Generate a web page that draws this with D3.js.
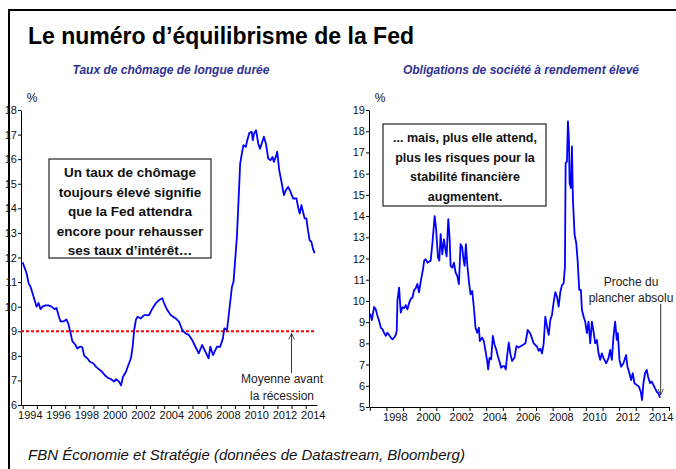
<!DOCTYPE html>
<html><head><meta charset="utf-8">
<script src="https://cdn.jsdelivr.net/npm/d3@7"></script>
<style>body{margin:0;background:#fff}svg{display:block}</style>
</head><body><svg id="c" width="676" height="469"></svg>
<script>
// ---- DATA ----
const unempYears=[1994.00,1994.28,1994.42,1994.56,1994.77,1994.98,1995.12,1995.26,1995.40,1995.61,1995.82,1996.04,1996.25,1996.39,1996.53,1996.67,1996.88,1997.09,1997.23,1997.37,1997.51,1997.72,1997.86,1998.07,1998.21,1998.35,1998.56,1998.77,1998.98,1999.19,1999.40,1999.61,1999.82,2000.04,2000.25,2000.46,2000.60,2000.81,2000.95,2001.09,2001.30,2001.51,2001.65,2001.77,2001.88,2002.00,2002.12,2002.35,2002.58,2002.93,2003.17,2003.40,2003.64,2003.87,2004.04,2004.22,2004.46,2004.81,2005.04,2005.28,2005.51,2005.74,2005.98,2006.21,2006.44,2006.68,2006.91,2007.14,2007.26,2007.45,2007.73,2007.96,2008.15,2008.25,2008.44,2008.55,2008.79,2008.90,2009.14,2009.37,2009.49,2009.60,2009.77,2009.84,2010.02,2010.19,2010.26,2010.35,2010.49,2010.65,2010.77,2010.89,2011.05,2011.19,2011.35,2011.52,2011.66,2011.75,2011.89,2011.99,2012.13,2012.29,2012.46,2012.60,2012.76,2012.93,2013.11,2013.35,2013.46,2013.58,2013.70,2013.81,2013.93,2014.05,2014.16,2014.28,2014.40,2014.51,2014.63];
const unempValues=[11.8,11.35,10.95,10.8,10.4,10.0,10.15,9.9,10.0,10.05,10.05,10.0,9.9,9.95,9.65,9.4,9.4,9.48,9.3,8.95,8.6,8.45,8.3,8.38,8.35,8.0,7.9,7.75,7.7,7.55,7.45,7.35,7.2,7.1,7.05,6.95,7.05,6.95,6.8,7.15,7.35,7.69,7.9,8.37,9.05,9.46,9.59,9.52,9.66,9.66,9.93,10.13,10.27,10.34,10.07,9.86,9.66,9.52,9.39,9.05,8.91,8.85,8.64,8.37,8.1,8.44,8.17,7.9,8.37,8.03,8.37,8.37,8.71,9.12,9.05,9.6,10.81,11.01,12.84,15.82,16.23,16.57,16.5,16.7,17.07,17.11,16.77,17.04,17.18,16.63,16.43,16.63,16.91,16.63,16.03,15.96,16.09,15.89,16.09,16.3,15.55,15.08,14.54,14.74,14.87,14.67,14.4,14.4,14.06,13.79,14.13,13.86,13.59,13.59,13.11,12.7,12.64,12.37,12.17];
const hyYears=[1997.03,1997.12,1997.26,1997.36,1997.46,1997.56,1997.66,1997.76,1997.86,1997.96,1998.06,1998.16,1998.26,1998.36,1998.46,1998.56,1998.62,1998.66,1998.76,1998.86,1998.96,1999.06,1999.16,1999.26,1999.36,1999.46,1999.56,1999.66,1999.76,1999.86,1999.96,2000.06,2000.20,2000.27,2000.36,2000.46,2000.56,2000.66,2000.76,2000.90,2000.98,2001.10,2001.18,2001.26,2001.36,2001.46,2001.56,2001.62,2001.72,2001.80,2001.86,2001.96,2002.06,2002.16,2002.26,2002.36,2002.46,2002.56,2002.62,2002.70,2002.78,2002.86,2002.96,2003.06,2003.16,2003.26,2003.36,2003.46,2003.56,2003.62,2003.76,2003.86,2003.96,2004.06,2004.12,2004.20,2004.30,2004.40,2004.50,2004.60,2004.70,2004.82,2004.90,2005.02,2005.10,2005.18,2005.26,2005.36,2005.46,2005.56,2005.70,2005.82,2005.96,2006.10,2006.26,2006.36,2006.50,2006.66,2006.86,2007.06,2007.16,2007.26,2007.36,2007.46,2007.56,2007.66,2007.76,2007.86,2007.96,2008.06,2008.16,2008.26,2008.36,2008.46,2008.56,2008.66,2008.74,2008.78,2008.86,2008.92,2008.98,2009.02,2009.10,2009.16,2009.22,2009.32,2009.42,2009.50,2009.60,2009.70,2009.76,2009.86,2009.96,2010.06,2010.16,2010.26,2010.36,2010.46,2010.56,2010.66,2010.76,2010.86,2010.96,2011.06,2011.22,2011.36,2011.46,2011.56,2011.66,2011.76,2011.86,2011.92,2012.02,2012.12,2012.26,2012.42,2012.50,2012.62,2012.72,2012.82,2012.92,2013.06,2013.18,2013.30,2013.38,2013.46,2013.56,2013.66,2013.74,2013.86,2013.96,2014.06,2014.16,2014.26,2014.36,2014.46];
const hyValues=[9.4,9.1,9.72,9.6,9.29,9.06,8.74,8.66,8.5,8.35,8.5,8.39,8.27,8.19,8.27,8.39,8.6,10.0,10.63,9.45,9.7,9.65,9.8,9.6,9.9,10.1,10.15,10.5,10.6,10.8,10.4,10.9,11.5,11.9,11.97,11.8,11.85,11.9,12.68,14.0,13.46,12.05,11.9,13.15,12.2,12.9,12.36,12.1,13.86,12.99,11.65,11.57,11.8,11.34,11.18,10.79,12.68,12.52,12.05,11.65,12.68,11.73,10.94,10.31,10.47,9.69,8.74,8.5,8.74,8.11,8.27,8.11,7.64,7.17,6.77,7.32,7.24,8.35,7.95,7.72,7.4,7.09,6.85,6.93,6.93,6.77,7.4,8.03,7.48,7.17,7.32,7.87,7.8,7.87,7.95,8.0,8.63,8.45,8.0,7.84,7.65,7.75,7.53,8.0,9.26,8.79,8.4,9.1,9.34,9.94,10.41,10.2,9.73,10.41,10.75,10.83,11.62,16.5,16.57,18.46,17.6,15.55,15.32,17.28,14.76,13.11,12.72,11.93,10.52,10.52,9.58,9.26,9.02,8.48,9.02,8.0,9.02,8.55,8.0,8.16,7.53,7.22,7.53,7.3,7.06,7.3,7.69,7.22,8.32,9.02,8.16,8.48,7.22,6.9,7.06,7.45,6.9,6.59,6.27,6.59,6.12,6.04,5.97,5.72,5.33,6.12,6.59,6.75,6.43,6.12,6.2,6.04,5.88,5.72,5.65,5.44];
const leftYTicks=[6,7,8,9,10,11,12,13,14,15,16,17,18];
const rightYTicks=[5,6,7,8,9,10,11,12,13,14,15,16,17,18,19];
const leftXLabels=[1994,1996,1998,2000,2002,2004,2006,2008,2010,2012,2014];
const rightXLabels=[1998,2000,2002,2004,2006,2008,2010,2012,2014];
const preRecessionMean=9;
const titleText="Le numéro d’équilibrisme de la Fed";
const leftTitle="Taux de chômage de longue durée";
const rightTitle="Obligations de société à rendement élevé";
const leftNote=["Un taux de chômage","toujours élevé signifie","que la Fed attendra","encore pour rehausser","ses taux d’intérêt…"];
const rightNote=["... mais, plus elle attend,","plus les risques pour la","stabilité financière","augmentent."];
const meanNote=["Moyenne avant","la récession"];
const floorNote=["Proche du","plancher absolu"];
const sourceText="FBN Économie et Stratégie (données de Datastream, Bloomberg)";

// ---- DRAW ----
const svg=d3.select("#c");
const SANS="'Liberation Sans',Arial,sans-serif";
const NARROW="'Liberation Sans Narrow','Arial Narrow',sans-serif";
svg.append("rect").attr("width",676).attr("height",469).attr("fill","#fff");
// frame
svg.append("path").attr("d","M9,469V10H676").attr("fill","none").attr("stroke","#000").attr("stroke-width",2);

svg.append("text").attr("x",28).attr("y",44).text(titleText)
  .attr("font-family",SANS).attr("font-weight","bold").attr("font-size",23).attr("fill","#000");

function panel(o){
  const g=svg.append("g");
  const x=d3.scaleLinear().domain(o.xDomain).range([o.x0,o.x1]);
  const y=d3.scaleLinear().domain(o.yDomain).range([o.y1,o.y0]);
  const ya=g.append("g").attr("transform",`translate(${o.x0},0)`)
    .call(d3.axisLeft(y).tickValues(o.yTicks).tickSize(3).tickSizeOuter(0).tickPadding(1).tickFormat(d3.format("d")));
  ya.select(".domain").attr("stroke","#000");
  ya.selectAll("text").attr("font-family",NARROW).attr("font-size",11).attr("fill","#111");
  const xa=g.append("g").attr("transform",`translate(0,${o.y1})`)
    .call(d3.axisBottom(x).tickValues(d3.range(Math.ceil(o.xDomain[0]),Math.floor(o.xDomain[1])+1)).tickSize(4).tickSizeOuter(0).tickFormat(""));
  xa.select(".domain").attr("stroke","#000");
  const xl=g.append("g").attr("transform",`translate(0,${o.y1})`)
    .call(d3.axisBottom(x).tickValues(o.xLabels.map(d=>d+0.5)).tickSize(0).tickPadding(6).tickFormat(d=>String(Math.floor(d))));
  xl.select(".domain").remove();
  xl.selectAll("text").attr("font-family",NARROW).attr("font-size",11).attr("fill","#111");
  g.append("text").attr("x",o.x0+11).attr("y",o.y0-8).attr("text-anchor","middle").text("%")
    .attr("font-family",SANS).attr("font-size",12).attr("fill","#111");
  g.append("text").attr("x",o.titleX).attr("y",74).attr("text-anchor","middle").text(o.title)
    .attr("font-family",SANS).attr("font-weight","bold").attr("font-style","italic").attr("font-size",12).attr("fill","#2e3192");
  return {g,x,y};
}

const L=panel({x0:21,x1:317,y0:110,y1:405,xDomain:[1993.88,2014.8],yDomain:[6,18],yTicks:leftYTicks,xLabels:leftXLabels,title:leftTitle,titleX:171});
const R=panel({x0:369,x1:669,y0:110,y1:407,xDomain:[1996.95,2015.0],yDomain:[5,19],yTicks:rightYTicks,xLabels:rightXLabels,title:rightTitle,titleX:521});

L.g.append("line").attr("x1",L.x(1993.88)).attr("x2",L.x(2014.7))
  .attr("y1",L.y(preRecessionMean)).attr("y2",L.y(preRecessionMean))
  .attr("stroke","#ff0000").attr("stroke-width",2).attr("stroke-dasharray","3,2");

const line=(s,xs,ys)=>d3.line().x((d,i)=>s.x(xs[i])).y((d,i)=>s.y(ys[i]));
L.g.append("path").datum(unempValues).attr("d",line(L,unempYears,unempValues))
  .attr("fill","none").attr("stroke","#0000ff").attr("stroke-width",1.8).attr("stroke-linejoin","round");
R.g.append("path").datum(hyValues).attr("d",line(R,hyYears,hyValues))
  .attr("fill","none").attr("stroke","#0000ff").attr("stroke-width",1.8).attr("stroke-linejoin","round");

const defs=svg.append("defs");
defs.append("marker").attr("id","ah").attr("viewBox","0 0 10 10").attr("refX",9).attr("refY",5)
  .attr("markerWidth",7).attr("markerHeight",7).attr("orient","auto-start-reverse")
  .append("path").attr("d","M0,1L9,5L0,9").attr("fill","none").attr("stroke","#333").attr("stroke-width",1.2);

function noteBox(x0,y0,w,h,lines,cx,firstY,lh,fs){
  svg.append("rect").attr("x",x0).attr("y",y0).attr("width",w).attr("height",h)
    .attr("fill","#fff").attr("stroke","#333").attr("stroke-width",1.3);
  svg.selectAll(null).data(lines).enter().append("text")
    .attr("x",cx).attr("y",(d,i)=>firstY+i*lh).attr("text-anchor","middle").text(d=>d)
    .attr("font-family",SANS).attr("font-weight","bold").attr("font-size",fs).attr("fill","#111");
}
noteBox(49,159,162,99,leftNote,130,177,19.5,13.5);
noteBox(383,124,163,82,rightNote,465,142,19.5,12.5);

svg.append("line").attr("x1",L.x(2013.0)).attr("x2",L.x(2013.0)).attr("y1",373).attr("y2",L.y(preRecessionMean)+2)
  .attr("stroke","#333").attr("stroke-width",1).attr("marker-end","url(#ah)");
svg.selectAll(null).data(meanNote).enter().append("text")
  .attr("x",282).attr("y",(d,i)=>383+i*17).attr("text-anchor","middle").text(d=>d)
  .attr("font-family",SANS).attr("font-size",12).attr("fill","#222");
svg.append("line").attr("x1",R.x(2014.5)).attr("x2",R.x(2014.5)).attr("y1",304).attr("y2",395)
  .attr("stroke","#333").attr("stroke-width",1).attr("marker-end","url(#ah)");
svg.selectAll(null).data(floorNote).enter().append("text")
  .attr("x",631).attr("y",(d,i)=>286+i*16).attr("text-anchor","middle").text(d=>d)
  .attr("font-family",SANS).attr("font-size",12).attr("fill","#222");

svg.append("text").attr("x",28).attr("y",460).text(sourceText)
  .attr("font-family",SANS).attr("font-style","italic").attr("font-size",15).attr("fill","#111");
</script></body></html>
